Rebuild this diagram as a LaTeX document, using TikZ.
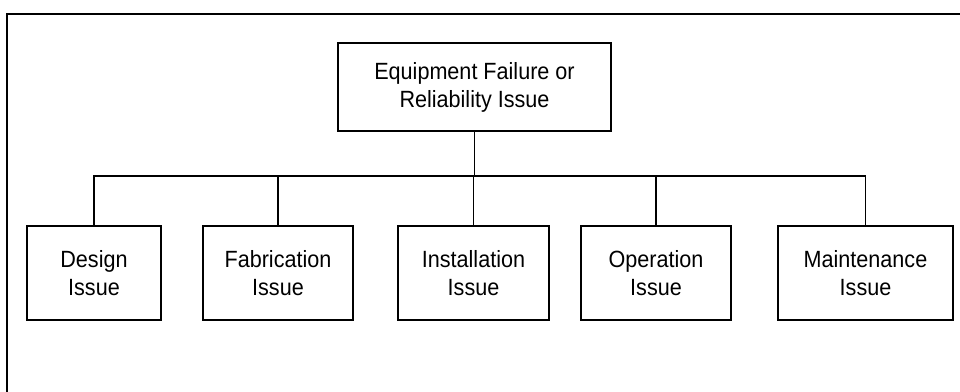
\documentclass[tikz,border=0pt]{standalone}
\usepackage{fontspec}
\setmainfont{Liberation Sans}
\newfontfamily\boxfont[FakeStretch=0.92]{Liberation Sans}
\usepackage{tikz}
\usetikzlibrary{positioning}
\tikzset{
  issue/.style={draw, line width=1.1pt, align=center, inner sep=0pt,
    minimum height=70.5pt, font=\boxfont\fontsize{17.6}{21}\selectfont},
  link/.style={line width=1.1pt}
}

\begin{document}
\begin{tikzpicture}[x=0.75pt, y=-0.75pt]
            \useasboundingbox (0,0) rectangle (960,392);
            % frame, only top and left edges
            \draw[line width=2.2pt] (7,392) -- (7,14) -- (960,14);

            \node[issue, minimum width=204.75pt, minimum height=66pt] (top) at (474.5,87) {Equipment Failure or\\Reliability Issue};

            \def\row{273}
            \node[issue, minimum width=100.5pt] (design) at (94,\row) {Design\\Issue};
            \node[issue, minimum width=112.5pt] (fab) at (278,\row) {Fabrication\\Issue};
            \node[issue, minimum width=113.25pt] (inst) at (473.5,\row) {Installation\\Issue};
            \node[issue, minimum width=112.5pt] (oper) at (656,\row) {Operation\\Issue};
            \node[issue, minimum width=131.25pt] (maint) at (865.5,\row) {Maintenance\\Issue};

            \coordinate (bar) at (0,176);
            \draw[link] (top.south) -- (top.south |- bar);
            \draw[link] (design.north) |- (maint.north |- bar) -- (maint.north);
            \foreach \n in {fab, inst, oper}
                \draw[link] (\n.north) -- (\n.north |- bar);
        \end{tikzpicture}
\end{document}
